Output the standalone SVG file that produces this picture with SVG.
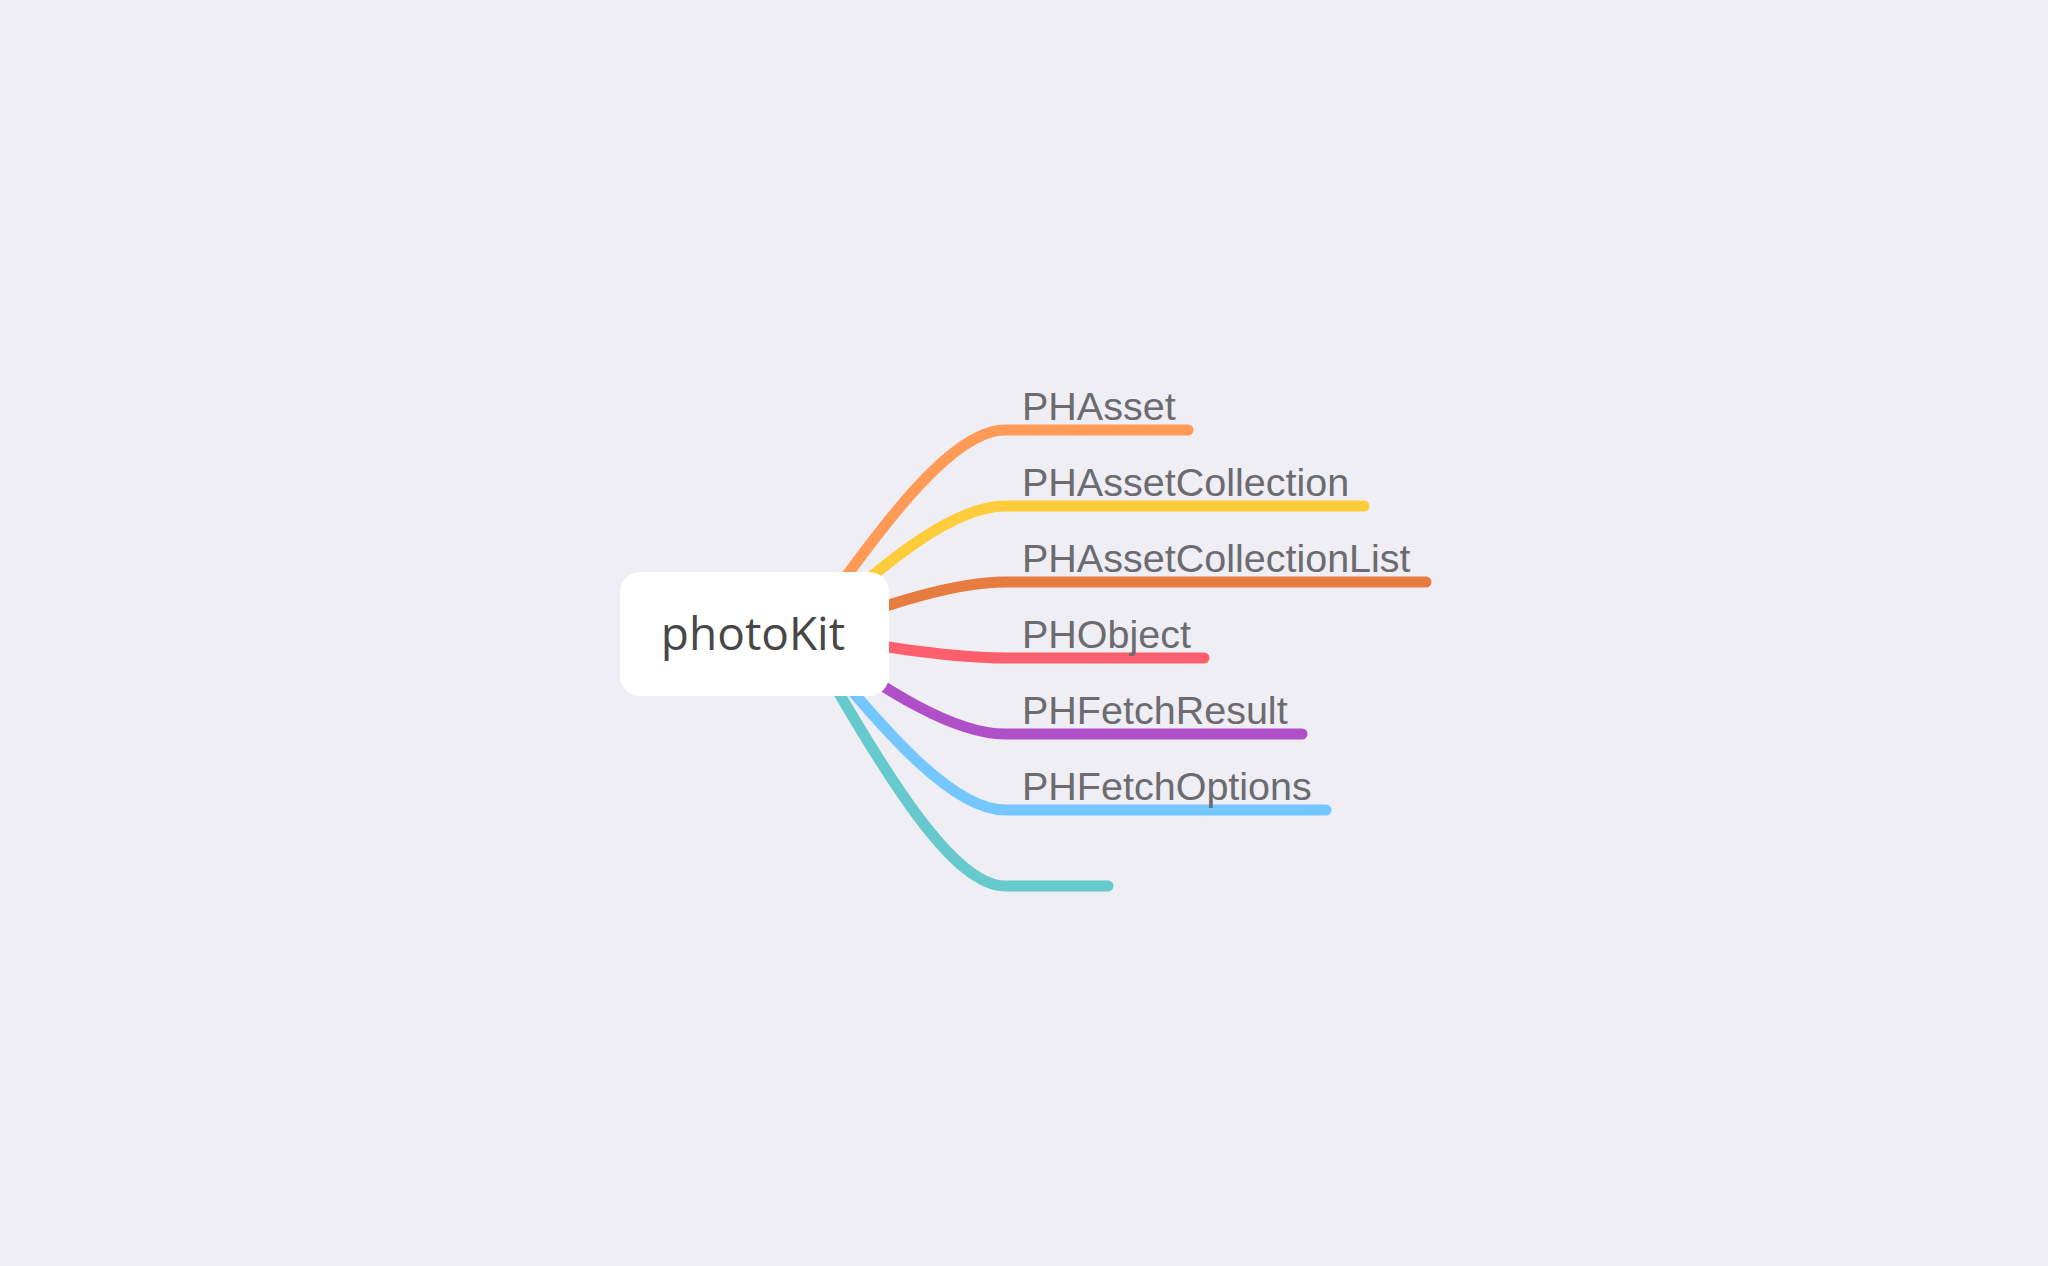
<svg xmlns="http://www.w3.org/2000/svg" width="2048" height="1266" viewBox="0 0 2048 1266">
<style>
.br{fill:none;stroke-width:11;stroke-linecap:round}
.lbl{font-family:"Liberation Sans",Arial,sans-serif;font-size:39.5px;fill:#6b6b70}
.root{font-family:"Open Sans","Noto Sans",sans-serif;font-size:46px;fill:#474747}
</style>
<rect x="0" y="0" width="2048" height="1266" fill="#efeef4"/>
<g id="connectors">
<path class="br" stroke="#ff9a57" d="M805 634 C890 512 955 430 1005 430 H1188"/>
<path class="br" stroke="#ffcd3b" d="M805 634 C890 557 955 506 1005 506 H1364"/>
<path class="br" stroke="#e67c40" d="M805 634 C890 603 955 582 1005 582 H1426"/>
<path class="br" stroke="#ff5e6c" d="M805 634 C890 648 955 658 1005 658 H1204"/>
<path class="br" stroke="#b050c8" d="M805 634 C890 694 955 734 1005 734 H1302"/>
<path class="br" stroke="#74c6ff" d="M805 634 C890 740 955 810 1005 810 H1326"/>
<path class="br" stroke="#66c9cd" d="M805 634 C890 785 955 886 1005 886 H1108"/>
</g>
<g id="root">
<rect x="620" y="572" width="269" height="124" rx="20" fill="#ffffff"/>
<text class="root" x="753" y="650" text-anchor="middle">photoKit</text>
</g>
<g id="n1"><text class="lbl" x="1022" y="420">PHAsset</text></g>
<g id="n2"><text class="lbl" x="1022" y="496">PHAssetCollection</text></g>
<g id="n3"><text class="lbl" x="1022" y="572">PHAssetCollectionList</text></g>
<g id="n4"><text class="lbl" x="1022" y="648">PHObject</text></g>
<g id="n5"><text class="lbl" x="1022" y="724">PHFetchResult</text></g>
<g id="n6"><text class="lbl" x="1022" y="800">PHFetchOptions</text></g>
<g id="n7"></g>
</svg>
